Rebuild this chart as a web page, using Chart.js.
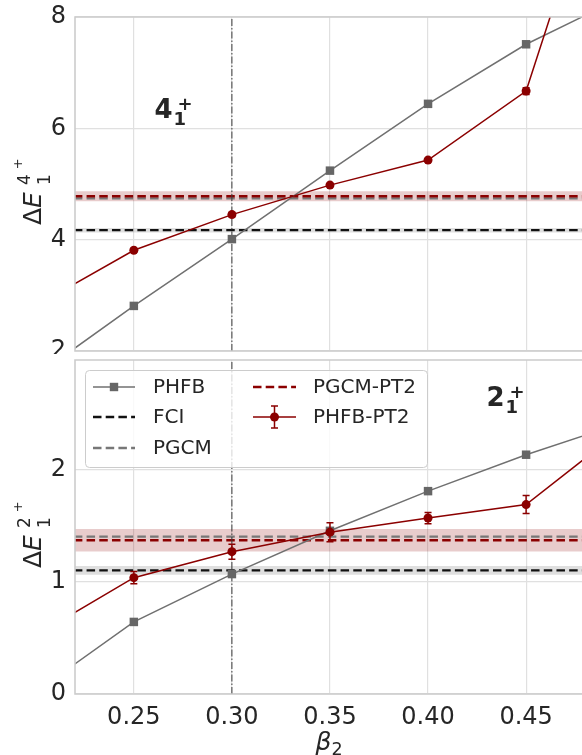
<!DOCTYPE html>
<html><head><meta charset="utf-8">
<script src="https://cdn.jsdelivr.net/npm/chart.js@4/dist/chart.umd.min.js"></script>
<style>
html,body{margin:0;padding:0;background:#fff;}
body{width:582px;height:755px;overflow:hidden;position:relative;font-family:"DejaVu Sans";color:#262626;}
#c1{position:absolute;left:0;top:0;}
#c2{position:absolute;left:0;top:354px;background:#fff;}
.xlab{position:absolute;transform:translate(-50%,-50%);font-size:25px;white-space:nowrap;line-height:1;}
.xlab .sb{position:relative;top:0.3em;font-size:0.7em;}
</style></head>
<body>
<canvas id="c1" width="582" height="356"></canvas>
<canvas id="c2" width="582" height="401"></canvas>
<div class="xlab" style="left:329px;top:741px;"><i>β</i><span class="sb">2</span></div>
<script>
// ---------- data ----------
const betaGrid = [0.20, 0.25, 0.30, 0.35, 0.40, 0.45, 0.50];
const xTickValues = [0.25, 0.30, 0.35, 0.40, 0.45];
const xRange = [0.22, 0.4785];
const refBeta = 0.30;
const legendLabels = ['PHFB', 'FCI', 'PGCM', 'PGCM-PT2', 'PHFB-PT2'];

// 4+ panel
const yTicks4 = [2, 4, 6, 8];
const yRange4 = [2, 8];
const phfb4 = [1.55, 2.81, 4.01, 5.24, 6.44, 7.51, 8.37];
const phfbPt2_4 = [2.81, 3.81, 4.45, 4.98, 5.43, 6.67, 12.1];
const phfbPt2Err4 = [0.03, 0.03, 0.04, 0.03, 0.03, 0.06, 0.10];
const fci4 = 4.17, fciErr4 = 0.04;
const pgcm4 = 4.74;
const pgcmPt2_4 = 4.78, pgcmPt2Err4 = 0.09;
const levelLabel4 = ['4', '1', '+'];
const levelPos4 = [0.2605, 6.19];
const yLabel4 = ['Δ', 'E', '1', '4', '+'];

// 2+ panel
const yTicks2 = [0, 1, 2];
const yRange2 = [0, 2.98];
const phfb2 = [0.02, 0.643, 1.07, 1.456, 1.81, 2.135, 2.425];
const phfbPt2_2 = [0.52, 1.038, 1.27, 1.444, 1.57, 1.69, 2.375];
const phfbPt2Err2 = [0.05, 0.054, 0.067, 0.085, 0.05, 0.08, 0.08];
const fci2 = 1.103, fciErr2 = 0.04;
const pgcm2 = 1.405;
const pgcmPt2_2 = 1.372, pgcmPt2Err2 = 0.10;
const levelLabel2 = ['2', '1', '+'];
const levelPos2 = [0.4298, 2.574];
const yLabel2 = ['Δ', 'E', '1', '2', '+'];

// ---------- styles ----------
const RED = '#8b0000';
const GRAY_LINE = '#707070';
const GRAY_MARK = '#666666';
const TXT = '#262626';
Chart.defaults.font.family = '"DejaVu Sans"';
Chart.defaults.color = TXT;

function hline(v) { return [betaGrid[0], betaGrid[betaGrid.length - 1]].map(x => ({x, y: v})); }
function series(ys) { return betaGrid.map((x, i) => ({x, y: ys[i]})); }

function buildDatasets(p) {
  return [
    {label: 'PHFB-PT2', data: series(p.pt2), errors: p.pt2Err, borderColor: RED, backgroundColor: RED,
     borderWidth: 1.5, pointStyle: 'circle', pointRadius: 4.5, pointBorderWidth: 0, order: 0},
    {label: 'PHFB', data: series(p.phfb), borderColor: GRAY_LINE, backgroundColor: GRAY_MARK,
     borderWidth: 1.5, pointStyle: 'rect', pointRadius: 6, pointBorderWidth: 0, order: 1},
    {label: 'ref', data: [{x: refBeta, y: p.yr[0]}, {x: refBeta, y: p.yr[1]}], borderColor: '#3c3c3c',
     borderWidth: 1, borderDash: [7, 2, 1.5, 2], pointRadius: 0, order: 2},
    {label: 'PGCM-PT2', data: hline(p.pgcmPt2), borderColor: RED, borderWidth: 2.3, borderDash: [8.5, 4.2], pointRadius: 0, order: 3},
    {label: 'PGCM', data: hline(p.pgcm), borderColor: '#777777', borderWidth: 2.3, borderDash: [8.5, 4.2], pointRadius: 0, order: 4},
    {label: 'FCI', data: hline(p.fci), borderColor: '#111111', borderWidth: 2.3, borderDash: [8.5, 4.2], pointRadius: 0, order: 5},
    {label: 'bandR-lo', data: hline(p.pgcmPt2 - p.pgcmPt2Err), borderWidth: 0, pointRadius: 0, fill: false, order: 10},
    {label: 'bandR-hi', data: hline(p.pgcmPt2 + p.pgcmPt2Err), borderWidth: 0, pointRadius: 0, fill: '-1',
     backgroundColor: 'rgba(139,0,0,0.2)', order: 10},
    {label: 'bandG-lo', data: hline(p.fci - p.fciErr), borderWidth: 0, pointRadius: 0, fill: false, order: 11},
    {label: 'bandG-hi', data: hline(p.fci + p.fciErr), borderWidth: 0, pointRadius: 0, fill: '-1',
     backgroundColor: 'rgba(128,128,128,0.25)', order: 11}
  ];
}

const errorBarPlugin = {
  id: 'errbars',
  afterDatasetsDraw(chart) {
    const ctx = chart.ctx, a = chart.chartArea;
    ctx.save();
    ctx.beginPath(); ctx.rect(a.left, a.top, a.right - a.left, a.bottom - a.top); ctx.clip();
    chart.data.datasets.forEach(ds => {
      if (!ds.errors) return;
      ctx.strokeStyle = ds.borderColor; ctx.lineWidth = 1.5;
      ds.data.forEach((pt, i) => {
        const x = chart.scales.x.getPixelForValue(pt.x);
        const y1 = chart.scales.y.getPixelForValue(pt.y - ds.errors[i]);
        const y2 = chart.scales.y.getPixelForValue(pt.y + ds.errors[i]);
        ctx.beginPath();
        ctx.moveTo(x, y1); ctx.lineTo(x, y2);
        ctx.moveTo(x - 3.5, y1); ctx.lineTo(x + 3.5, y1);
        ctx.moveTo(x - 3.5, y2); ctx.lineTo(x + 3.5, y2);
        ctx.stroke();
      });
    });
    ctx.restore();
  }
};

const framePlugin = {
  id: 'frame',
  afterDatasetsDraw(chart) {
    const ctx = chart.ctx, a = chart.chartArea;
    ctx.save();
    ctx.strokeStyle = '#cccccc'; ctx.lineWidth = 1.6;
    ctx.beginPath();
    ctx.moveTo(chart.width + 2, a.top); ctx.lineTo(a.left, a.top); ctx.lineTo(a.left, a.bottom); ctx.lineTo(chart.width + 2, a.bottom);
    ctx.stroke();
    ctx.restore();
  }
};

function levelPlugin(label, pos) {
  return {
    id: 'level',
    afterDatasetsDraw(chart) {
      const ctx = chart.ctx;
      const x = chart.scales.x.getPixelForValue(pos[0]);
      const y = chart.scales.y.getPixelForValue(pos[1]);
      ctx.save();
      ctx.fillStyle = TXT; ctx.textBaseline = 'alphabetic'; ctx.textAlign = 'left';
      ctx.font = 'bold 26px "DejaVu Sans"';
      ctx.fillText(label[0], x, y);
      const w = ctx.measureText(label[0]).width;
      ctx.font = 'bold 18px "DejaVu Sans"';
      ctx.fillText(label[1], x + w + 1, y + 7);
      ctx.fillText(label[2], x + w + 5, y - 8);
      ctx.restore();
    }
  };
}

function yLabelPlugin(parts) {
  return {
    id: 'ylabel',
    afterDraw(chart) {
      const ctx = chart.ctx, a = chart.chartArea;
      ctx.save();
      ctx.translate(41, (a.top + a.bottom) / 2 + 41);
      ctx.rotate(-Math.PI / 2);
      ctx.fillStyle = TXT; ctx.textBaseline = 'alphabetic'; ctx.textAlign = 'left';
      ctx.font = '25px "DejaVu Sans"';
      ctx.fillText(parts[0], 0, 0);
      let w = ctx.measureText(parts[0]).width;
      ctx.font = 'italic 25px "DejaVu Sans"';
      ctx.fillText(parts[1], w, 0);
      w += ctx.measureText(parts[1]).width + 7;
      ctx.font = '17px "DejaVu Sans"';
      ctx.fillText(parts[2], w, 9);
      ctx.fillText(parts[3], w, -11);
      const w2 = ctx.measureText(parts[3]).width;
      ctx.font = '13px "DejaVu Sans"';
      ctx.fillText(parts[4], w + w2 + 5, -19);
      ctx.restore();
    }
  };
}

const legendPlugin = {
  id: 'customLegend',
  afterDraw(chart) {
    const ctx = chart.ctx;
    const box = {x: 85, y: 16, w: 342, h: 97};
    ctx.save();
    ctx.fillStyle = 'rgba(255,255,255,0.8)';
    ctx.strokeStyle = '#cccccc'; ctx.lineWidth = 1;
    ctx.beginPath();
    ctx.roundRect(box.x + 0.5, box.y + 0.5, box.w, box.h, 4);
    ctx.fill(); ctx.stroke();
    const rows = [box.y + 17, box.y + 47, box.y + 78];
    const cols = [[93, 135, 153], [253, 296, 313]];
    const items = [
      {label: legendLabels[0], col: 0, row: 0, color: GRAY_LINE, dash: [], marker: 'rect'},
      {label: legendLabels[1], col: 0, row: 1, color: '#111111', dash: [8.5, 4.2]},
      {label: legendLabels[2], col: 0, row: 2, color: '#777777', dash: [8.5, 4.2]},
      {label: legendLabels[3], col: 1, row: 0, color: RED, dash: [8.5, 4.2]},
      {label: legendLabels[4], col: 1, row: 1, color: RED, dash: [], marker: 'circle'}
    ];
    items.forEach(it => {
      const [x0, x1, tx] = cols[it.col];
      const y = rows[it.row];
      ctx.strokeStyle = it.color;
      ctx.lineWidth = it.dash.length ? 2.3 : 1.5;
      ctx.setLineDash(it.dash);
      ctx.beginPath(); ctx.moveTo(x0, y); ctx.lineTo(x1, y); ctx.stroke();
      ctx.setLineDash([]);
      const mx = (x0 + x1) / 2;
      if (it.marker === 'rect') {
        ctx.fillStyle = GRAY_MARK; ctx.fillRect(mx - 4.2, y - 4.2, 8.4, 8.4);
      } else if (it.marker === 'circle') {
        ctx.fillStyle = RED; ctx.beginPath(); ctx.arc(mx, y, 4.5, 0, Math.PI * 2); ctx.fill();
        ctx.lineWidth = 1.5; ctx.beginPath();
        ctx.moveTo(mx, y - 11); ctx.lineTo(mx, y + 11);
        ctx.moveTo(mx - 3.5, y - 11); ctx.lineTo(mx + 3.5, y - 11);
        ctx.moveTo(mx - 3.5, y + 11); ctx.lineTo(mx + 3.5, y + 11);
        ctx.stroke();
      }
      ctx.fillStyle = TXT; ctx.font = '20px "DejaVu Sans"';
      ctx.textAlign = 'left'; ctx.textBaseline = 'middle';
      ctx.fillText(it.label, tx, y + 1);
    });
    ctx.restore();
  }
};

function zeroPad(s) { s.paddingTop = 0; s.paddingBottom = 0; s.paddingLeft = 0; s.paddingRight = 0; }

function makeChart(id, p) {
  const cv = document.getElementById(id);
  return new Chart(cv, {
    type: 'line',
    data: {datasets: buildDatasets(p)},
    options: {
      responsive: false, animation: false, events: [],
      layout: {autoPadding: false, padding: {top: p.padTop, left: 0, right: 0, bottom: 0}},
      plugins: {legend: {display: false}, tooltip: {enabled: false}},
      elements: {line: {tension: 0}},
      scales: {
        x: {
          type: 'linear', min: xRange[0], max: xRange[1],
          afterBuildTicks: s => { s.ticks = xTickValues.map(v => ({value: v})); },
          afterFit: s => { s.height = p.xHeight; zeroPad(s); },
          grid: {color: '#e0e0e0', lineWidth: 1.2, drawTicks: false},
          border: {display: false},
          ticks: {display: p.showX, padding: 9, color: TXT, font: {size: 24}, callback: v => Number(v).toFixed(2), maxRotation: 0, autoSkip: false}
        },
        y: {
          type: 'linear', min: p.yr[0], max: p.yr[1],
          afterBuildTicks: s => { s.ticks = p.yTicks.map(v => ({value: v})); },
          afterFit: s => { s.width = 75; zeroPad(s); },
          grid: {color: '#e0e0e0', lineWidth: 1.2, drawTicks: false},
          border: {display: false},
          ticks: {padding: 9, color: TXT, font: {size: 24}, callback: v => String(v)}
        }
      }
    },
    plugins: [errorBarPlugin, framePlugin, levelPlugin(p.level, p.levelPos), yLabelPlugin(p.yLabel)].concat(p.legend ? [legendPlugin] : [])
  });
}

makeChart('c1', {
  phfb: phfb4, pt2: phfbPt2_4, pt2Err: phfbPt2Err4, fci: fci4, fciErr: fciErr4, pgcm: pgcm4,
  pgcmPt2: pgcmPt2_4, pgcmPt2Err: pgcmPt2Err4, yr: yRange4, yTicks: yTicks4, yLabel: yLabel4,
  level: levelLabel4, levelPos: levelPos4, padTop: 17, xHeight: 5, showX: false, legend: false
});
makeChart('c2', {
  phfb: phfb2, pt2: phfbPt2_2, pt2Err: phfbPt2Err2, fci: fci2, fciErr: fciErr2, pgcm: pgcm2,
  pgcmPt2: pgcmPt2_2, pgcmPt2Err: pgcmPt2Err2, yr: yRange2, yTicks: yTicks2, yLabel: yLabel2,
  level: levelLabel2, levelPos: levelPos2, padTop: 6, xHeight: 61, showX: true, legend: true
});
</script>
</body></html>
